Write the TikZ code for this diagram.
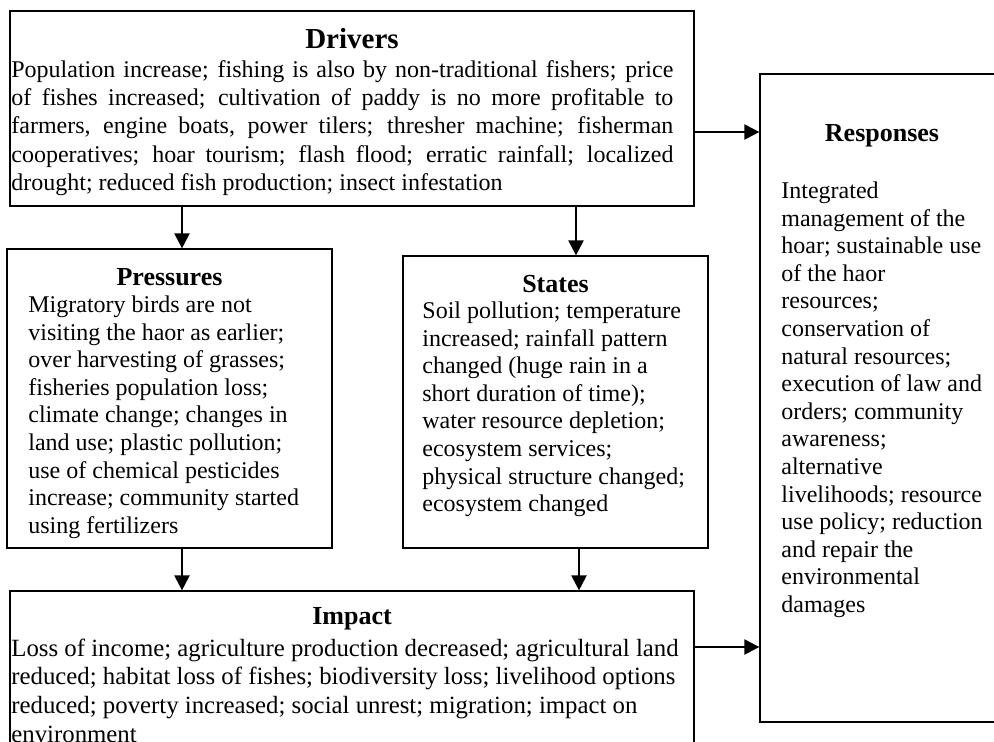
\documentclass[tikz,border=0pt]{standalone}
\usepackage{fontspec}
\setmainfont{Liberation Serif}
\usetikzlibrary{arrows.meta,fit}
\newcommand\txtlines[1]{\vtop{\halign{##\hfil\cr#1\crcr}}}
\begin{document}
\begin{tikzpicture}[x=0.5pt,y=-0.5pt,
  box/.style={draw, line width=0.65pt, inner sep=0pt, rectangle},
  ttl/.style={anchor=base, inner sep=0pt, font=\bfseries\fontsize{13}{15}\selectfont},
  body/.style={anchor=base west, inner sep=0pt, font=\fontsize{12}{13.8}\selectfont},
  arr/.style={line width=1.15pt, -{Triangle[length=7.5pt,width=7.5pt]}}]
\useasboundingbox (0,0) rectangle (994,741);
\clip (0,0) rectangle (994,741);
\fill[white] (0,0) rectangle (994,741);

% boxes
\node[box, fit={(10,11) (694,206)}] (drivers) {};
\node[box, fit={(7,249) (332,548)}] (pressures) {};
\node[box, fit={(403,256) (708,548)}] (states) {};
\node[box, fit={(10,591) (694,760)}] (impact) {};
\node[box, fit={(760,74) (1004,722)}] (responses) {};

% titles
\node[ttl, font=\bfseries\fontsize{14.5}{16}\selectfont] (dT) at (352,48) {Drivers};
\node[ttl] (pT) at (169.5,285) {Pressures};
\node[ttl] (sT) at (555.5,292) {States};
\node[ttl] (rT) at (882,141) {Responses};
\node[ttl] (iT) at (352,624) {Impact};

% bodies
\node[body, font=\fontsize{12}{14.1}\selectfont] (dB) at (11,77.5) {\txtlines{%
\makebox[331pt][s]{Population increase; fishing is also by non-traditional fishers; price}\cr
\makebox[331pt][s]{of fishes increased; cultivation of paddy is no more profitable to}\cr
\makebox[331pt][s]{farmers, engine boats, power tilers; thresher machine; fisherman}\cr
\makebox[331pt][s]{cooperatives; hoar tourism; flash flood; erratic rainfall; localized}\cr
drought; reduced fish production; insect infestation}};

\node[body] (pB) at (28,312.5) {\txtlines{%
Migratory birds are not\cr
visiting the haor as earlier;\cr
over harvesting of grasses;\cr
fisheries population loss;\cr
climate change; changes in\cr
land use; plastic pollution;\cr
use of chemical pesticides\cr
increase; community started\cr
using fertilizers}};

\node[body] (sB) at (422,318.5) {\txtlines{%
Soil pollution; temperature\cr
increased; rainfall pattern\cr
changed (huge rain in a\cr
short duration of time);\cr
water resource depletion;\cr
ecosystem services;\cr
physical structure changed;\cr
ecosystem changed}};

\node[body] (rB) at (781,198.5) {\txtlines{%
Integrated\cr
management of the\cr
hoar; sustainable use\cr
of the haor\cr
resources;\cr
conservation of\cr
natural resources;\cr
execution of law and\cr
orders; community\cr
awareness;\cr
alternative\cr
livelihoods; resource\cr
use policy; reduction\cr
and repair the\cr
environmental\cr
damages}};

\node[body, font=\fontsize{12.4}{14.4}\selectfont] (iB) at (11,656) {\txtlines{%
Loss of income; agriculture production decreased; agricultural land\cr
reduced; habitat loss of fishes; biodiversity loss; livelihood options\cr
reduced; poverty increased; social unrest; migration; impact on\cr
environment}};

% connectors
\coordinate (xa) at (182,0);
\coordinate (xb) at (576,0);
\coordinate (xd) at (579,0);
\coordinate (ya) at (0,132);
\coordinate (yb) at (0,647);
\draw[arr] (drivers.south -| xa) -- (pressures.north -| xa);
\draw[arr] (drivers.south -| xb) -- (states.north -| xb);
\draw[arr] (pressures.south -| xa) -- (impact.north -| xa);
\draw[arr] (states.south -| xd) -- (impact.north -| xd);
\draw[arr] (drivers.east |- ya) -- (responses.west |- ya);
\draw[arr] (impact.east |- yb) -- (responses.west |- yb);
\end{tikzpicture}
\end{document}
